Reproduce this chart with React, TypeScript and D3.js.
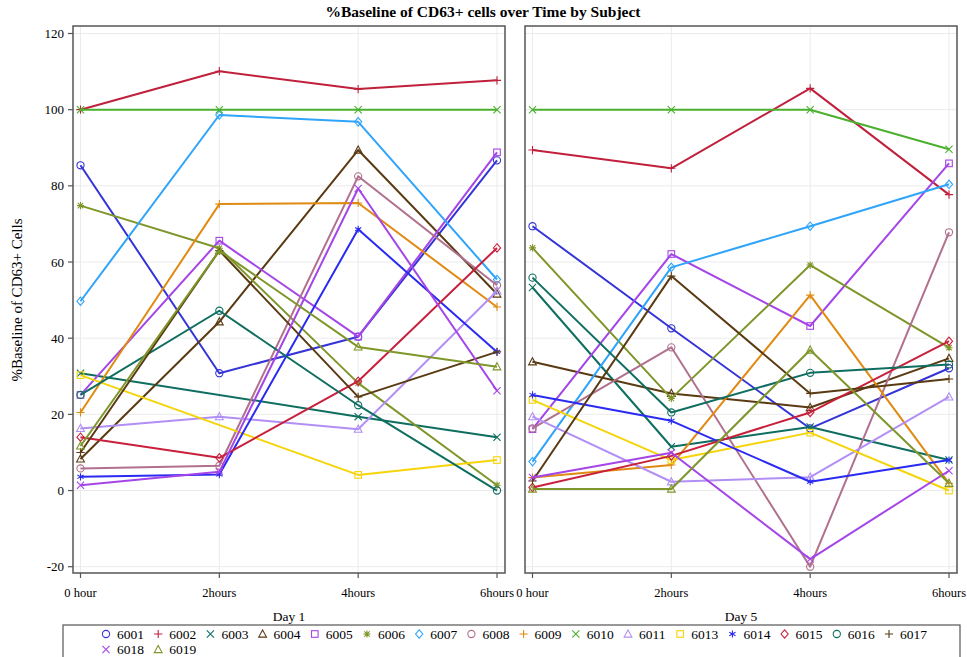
import React from "react";
import * as d3 from "d3";

// Time points on the x axis
const timepoints = ["0 hour", "2hours", "4hours", "6hours"];
const days = ["Day 1", "Day 5"];
const yTicks = [-20, 0, 20, 40, 60, 80, 100, 120];

// Subjects in legend order
const subjects = [
  "6001", "6002", "6003", "6004", "6005", "6006", "6007", "6008", "6009",
  "6010", "6011", "6013", "6014", "6015", "6016", "6017", "6018", "6019",
];

// %Baseline per subject, Day 1 (null = not measured)
const day1Values: (number | null)[][] = [
  [85.4, 30.8, 40.4, 86.7],
  [100, 110.1, 105.4, 107.7],
  [30.8, null, 19.4, 14.0],
  [8.3, 44.3, 89.4, 51.6],
  [25.1, 65.6, 40.4, 88.8],
  [74.8, 63.6, 28.2, 1.4],
  [49.7, 98.6, 96.8, 55.4],
  [5.8, 6.5, 82.5, 53.9],
  [20.5, 75.2, 75.5, 48.2],
  [100, 100, 100, 100],
  [16.3, 19.4, 16.1, 52.4],
  [30.3, null, 4.1, 8.0],
  [3.6, 4.2, 68.6, 36.4],
  [14.0, 8.6, 28.7, 63.7],
  [25.1, 47.2, 22.4, 0.0],
  [10.0, 63.0, 24.6, 36.4],
  [1.4, 4.9, 79.3, 26.2],
  [11.7, 63.0, 37.7, 32.5],
];

// %Baseline per subject, Day 5
const day5Values: (number | null)[][] = [
  [69.4, 42.6, 16.3, 32.1],
  [89.4, 84.6, 105.6, 77.7],
  [53.3, 11.5, 16.7, 8.0],
  [33.8, 25.5, 21.8, 34.7],
  [16.1, 62.1, 43.2, 85.9],
  [63.7, 24.2, 59.2, 37.5],
  [7.6, 58.6, 69.4, 80.4],
  [16.3, 37.6, -20.0, 67.8],
  [3.4, 6.7, 51.3, 1.9],
  [100, 100, 100, 89.6],
  [19.4, 2.3, 3.5, 24.6],
  [23.8, 8.0, 15.2, 0.0],
  [25.1, 18.3, 2.3, 8.0],
  [0.8, 9.1, 20.5, 39.2],
  [55.9, 20.5, 30.9, 33.1],
  [2.5, 56.3, 25.5, 29.3],
  [3.4, 9.9, -18.0, 5.2],
  [0.4, 0.4, 36.9, 1.9],
];

const colors = [
  "#3434d8", "#c0203c", "#0f6e60", "#5a3a12", "#a545e8", "#7e962a",
  "#2ea4fa", "#b0708e", "#e08a12", "#4ab02e", "#b28ff5", "#f5d40a",
  "#2a2af2", "#c8203c", "#0f6e60", "#5a3a12", "#a545e8", "#7e962a",
];

const markers = [
  "circle", "plus", "x", "triangle", "square", "asterisk", "diamond",
  "circle", "plus", "x", "triangle", "square", "star", "diamond",
  "circle", "plus", "x", "triangle",
];

const FONT = "'Liberation Serif', 'DejaVu Serif', serif";

function Marker({ type, x, y, color }: { type: string; x: number; y: number; color: string }) {
  const s = 3.6;
  const common = { stroke: color, strokeWidth: 1.1, fill: "none" };
  switch (type) {
    case "circle":
      return <circle cx={x} cy={y} r={s} {...common} />;
    case "plus":
      return <path d={`M${x - s - 0.5},${y}H${x + s + 0.5}M${x},${y - s - 0.5}V${y + s + 0.5}`} {...common} />;
    case "x":
      return <path d={`M${x - s},${y - s}L${x + s},${y + s}M${x - s},${y + s}L${x + s},${y - s}`} {...common} />;
    case "triangle":
      return <path d={`M${x},${y - s - 0.5}L${x + s + 0.3},${y + s - 0.5}L${x - s - 0.3},${y + s - 0.5}Z`} {...common} />;
    case "square":
      return <rect x={x - s + 0.3} y={y - s + 0.3} width={2 * s - 0.6} height={2 * s - 0.6} {...common} />;
    case "diamond":
      return <path d={`M${x},${y - s - 0.6}L${x + s},${y}L${x},${y + s + 0.6}L${x - s},${y}Z`} {...common} />;
    case "asterisk":
      return (
        <path
          d={`M${x - s},${y}H${x + s}M${x},${y - s}V${y + s}M${x - s * 0.75},${y - s * 0.75}L${x + s * 0.75},${y + s * 0.75}M${x - s * 0.75},${y + s * 0.75}L${x + s * 0.75},${y - s * 0.75}`}
          {...common}
        />
      );
    case "star": {
      const parts: string[] = [];
      for (let k = 0; k < 3; k++) {
        const a = (Math.PI / 3) * k + Math.PI / 2;
        const dx = Math.cos(a) * s;
        const dy = Math.sin(a) * s;
        parts.push(`M${x - dx},${y - dy}L${x + dx},${y + dy}`);
      }
      return <path d={parts.join("")} {...common} />;
    }
    default:
      return null;
  }
}

export default function App() {
  const width = 967;
  const height = 657;

  const panels = [
    { left: 73, right: 505, values: day1Values },
    { left: 525, right: 957, values: day5Values },
  ];
  const frameTop = 26;
  const frameBottom = 573;

  const y = d3.scaleLinear().domain([-20, 120]).range([566.7, 33.5]);

  const legendX0 = 106;
  const legendStep = 52.2;
  const legendPerRow = 16;

  return (
    <svg
      width={width}
      height={height}
      style={{ position: "absolute", left: 0, top: 0, background: "#fff" }}
      fontFamily={FONT}
    >
      <rect x={0} y={0} width={width} height={height} fill="#fff" />
      <text x={483} y={17} textAnchor="middle" fontSize={15.5} fontWeight="bold" fill="#000">
        %Baseline of CD63+ cells over Time by Subject
      </text>

      {/* y-axis title */}
      <text
        transform={`translate(22,300) rotate(-90)`}
        textAnchor="middle"
        fontSize={15}
        fill="#000"
      >
        %Baseline of CD63+ Cells
      </text>

      {panels.map((p, pi) => {
        const x = d3
          .scalePoint<string>()
          .domain(timepoints)
          .range([p.left + 7.5, p.right - 8]);
        const line = d3
          .line<{ t: string; v: number }>()
          .x((d) => x(d.t) as number)
          .y((d) => y(d.v));
        return (
          <g key={pi}>
            {/* grid */}
            {yTicks.map((t) => (
              <line
                key={"gy" + t}
                x1={p.left}
                x2={p.right}
                y1={y(t)}
                y2={y(t)}
                stroke="#ebebeb"
                strokeWidth={1}
              />
            ))}
            {timepoints.map((t) => (
              <line
                key={"gx" + t}
                x1={x(t)}
                x2={x(t)}
                y1={frameTop}
                y2={frameBottom}
                stroke="#ebebeb"
                strokeWidth={1}
              />
            ))}

            {/* series */}
            {p.values.map((vals, si) => {
              const pts = vals
                .map((v, i) => ({ t: timepoints[i], v }))
                .filter((d) => d.v !== null) as { t: string; v: number }[];
              return (
                <g key={si}>
                  <path d={line(pts) || ""} fill="none" stroke={colors[si]} strokeWidth={2} strokeLinejoin="round" />
                  {pts.map((d, k) => (
                    <Marker key={k} type={markers[si]} x={x(d.t) as number} y={y(d.v)} color={colors[si]} />
                  ))}
                </g>
              );
            })}

            {/* frame */}
            <rect
              x={p.left}
              y={frameTop}
              width={p.right - p.left}
              height={frameBottom - frameTop}
              fill="none"
              stroke="#555"
              strokeWidth={1.5}
            />

            {/* x axis ticks and labels */}
            {timepoints.map((t) => (
              <g key={"xt" + t}>
                <line x1={x(t)} x2={x(t)} y1={frameBottom} y2={frameBottom + 5} stroke="#555" strokeWidth={1.2} />
                <text x={x(t)} y={597} textAnchor="middle" fontSize={12.5} fill="#000">
                  {t}
                </text>
              </g>
            ))}
            <text x={(p.left + p.right) / 2} y={621} textAnchor="middle" fontSize={13.5} fill="#000">
              {days[pi]}
            </text>

            {/* y axis on the first panel only */}
            {pi === 0 &&
              yTicks.map((t) => (
                <g key={"yt" + t}>
                  <line x1={p.left - 5} x2={p.left} y1={y(t)} y2={y(t)} stroke="#555" strokeWidth={1.2} />
                  <text x={p.left - 9} y={y(t) + 4.5} textAnchor="end" fontSize={13} fill="#000">
                    {t}
                  </text>
                </g>
              ))}
          </g>
        );
      })}

      {/* legend */}
      <rect x={63} y={625} width={897} height={45} fill="none" stroke="#555" strokeWidth={1.2} />
      {subjects.map((s, i) => {
        const row = Math.floor(i / legendPerRow);
        const col = i % legendPerRow;
        const mx = legendX0 + col * legendStep;
        const my = 634 + row * 15.5;
        return (
          <g key={s}>
            <Marker type={markers[i]} x={mx} y={my} color={colors[i]} />
            <text x={mx + 11} y={my + 4.5} fontSize={13.5} fill="#000">
              {s}
            </text>
          </g>
        );
      })}
    </svg>
  );
}
